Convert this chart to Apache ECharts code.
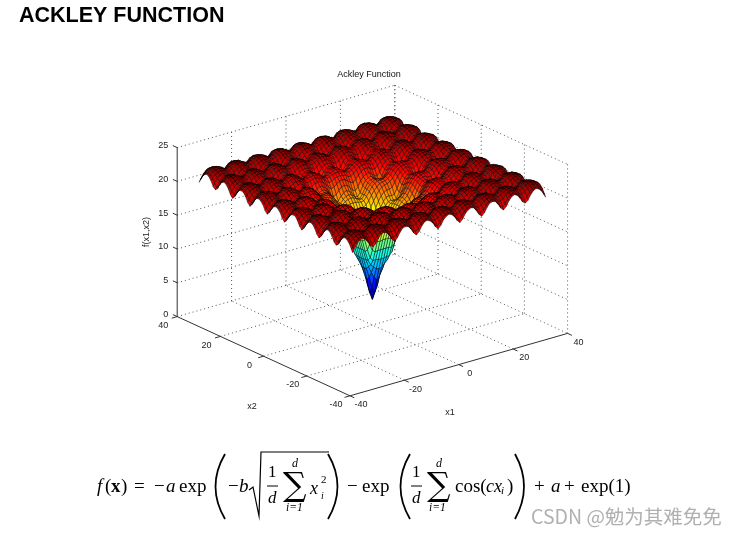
<!DOCTYPE html>
<html><head><meta charset="utf-8">
<style>html,body{margin:0;padding:0;background:#fff}#c{width:738px;height:537px}</style>
<script src="https://cdn.jsdelivr.net/npm/echarts@6/dist/echarts.min.js"></script>
</head><body><div id="c"></div>
<script>
const x1Ticks=[-40,-20,0,20,40];
const x2Ticks=[-40,-20,0,20,40];
const zTicks=[0,5,10,15,20,25];
const gridStops=[0,1,2,3,4,5,6,7,8,9,10,11,12,13,14,15,16,17,18,19,20,21,22,23,24,25,26,27,28,29,30,31,32,33,34,35,35.5];
// Surface heights for one octant of the symmetric surface: row k starts at column k.
const zOctant=[
[3.8,4.9,7.0,8.8,10.4,12.0,13.6,14.9,15.9,16.7,17.3,17.6,18.1,18.7,19.4,19.9,20.3,20.5,20.5,20.5,20.5,20.8,21.2,21.5,21.7,21.7,21.6,21.4,21.3,21.5,21.8,22.0,22.1,22.1,22.0,21.7,21.6],
[5.9,7.5,8.9,10.4,12.0,13.6,14.9,15.9,16.7,17.2,17.5,17.9,18.6,19.3,19.8,20.2,20.4,20.5,20.4,20.4,20.7,21.1,21.5,21.6,21.6,21.5,21.3,21.2,21.4,21.7,22.0,22.1,22.0,21.9,21.6,21.4],
[8.3,9.3,10.5,12.0,13.5,14.9,15.9,16.6,17.0,17.2,17.5,18.2,19.0,19.7,20.1,20.2,20.2,20.0,19.9,20.3,20.8,21.3,21.4,21.4,21.2,20.9,20.7,21.0,21.4,21.8,21.9,21.8,21.6,21.2,21.0],
[9.7,10.5,11.9,13.6,14.9,15.9,16.5,16.7,16.7,16.9,17.7,18.7,19.4,19.9,20.0,19.8,19.4,19.2,19.7,20.4,21.0,21.2,21.1,20.8,20.3,20.0,20.4,21.0,21.5,21.6,21.5,21.1,20.6,20.3],
[11.0,12.3,13.9,15.2,16.1,16.6,16.7,16.6,16.7,17.5,18.5,19.3,19.8,19.9,19.6,19.1,18.9,19.4,20.2,20.8,21.1,21.0,20.6,19.9,19.6,20.0,20.8,21.3,21.5,21.4,20.9,20.2,19.9],
[13.3,14.7,15.8,16.6,17.1,17.2,17.1,17.2,17.9,18.9,19.6,20.0,20.1,19.9,19.5,19.3,19.7,20.5,21.0,21.2,21.2,20.8,20.3,20.0,20.4,21.0,21.5,21.6,21.5,21.1,20.6,20.3],
[15.7,16.6,17.3,17.7,17.9,17.9,18.1,18.7,19.4,20.0,20.3,20.5,20.4,20.1,20.0,20.4,20.9,21.3,21.5,21.5,21.3,20.9,20.7,21.0,21.4,21.8,21.9,21.8,21.6,21.2,21.0],
[17.3,17.9,18.3,18.5,18.6,18.8,19.2,19.8,20.3,20.6,20.7,20.7,20.6,20.6,20.9,21.3,21.6,21.7,21.7,21.6,21.3,21.2,21.4,21.8,22.0,22.1,22.1,21.9,21.6,21.4],
[18.3,18.7,18.8,18.9,19.1,19.5,20.1,20.5,20.8,20.9,20.9,20.8,20.8,21.0,21.4,21.7,21.8,21.8,21.7,21.5,21.4,21.6,21.9,22.1,22.2,22.1,22.0,21.7,21.6],
[18.9,19.0,19.0,19.2,19.6,20.1,20.6,20.8,20.9,20.9,20.7,20.7,20.9,21.3,21.6,21.8,21.8,21.6,21.4,21.3,21.5,21.8,22.0,22.1,22.1,21.9,21.6,21.5],
[19.0,18.9,18.9,19.3,20.0,20.5,20.7,20.8,20.6,20.3,20.2,20.6,21.1,21.5,21.6,21.6,21.3,21.0,20.8,21.0,21.5,21.8,21.9,21.9,21.6,21.2,21.0],
[18.5,18.4,18.9,19.7,20.3,20.6,20.6,20.3,19.8,19.6,20.0,20.7,21.2,21.4,21.3,20.9,20.4,20.1,20.4,21.1,21.5,21.7,21.6,21.2,20.6,20.3],
[18.2,18.7,19.6,20.2,20.5,20.5,20.1,19.5,19.3,19.7,20.5,21.1,21.3,21.2,20.7,20.1,19.7,20.1,20.9,21.4,21.6,21.4,20.9,20.3,19.9],
[19.2,20.0,20.5,20.8,20.8,20.4,19.9,19.7,20.1,20.8,21.2,21.4,21.4,21.0,20.4,20.1,20.5,21.1,21.6,21.7,21.6,21.2,20.6,20.3],
[20.5,20.9,21.1,21.1,20.9,20.6,20.4,20.7,21.2,21.6,21.7,21.7,21.4,21.0,20.8,21.1,21.5,21.9,22.0,21.9,21.6,21.2,21.0],
[21.2,21.4,21.4,21.3,21.1,21.0,21.2,21.6,21.8,21.9,21.9,21.7,21.5,21.3,21.5,21.8,22.1,22.2,22.1,21.9,21.6,21.5],
[21.5,21.6,21.5,21.3,21.2,21.4,21.7,21.9,22.0,22.0,21.8,21.6,21.5,21.7,21.9,22.1,22.2,22.2,22.0,21.8,21.6],
[21.6,21.4,21.2,21.1,21.3,21.6,21.9,22.0,22.0,21.8,21.5,21.4,21.6,21.9,22.1,22.2,22.1,21.9,21.6,21.5],
[21.2,20.8,20.6,20.9,21.4,21.7,21.8,21.8,21.5,21.1,20.9,21.1,21.6,21.9,22.0,21.9,21.6,21.2,21.0],
[20.3,20.0,20.3,21.0,21.4,21.6,21.5,21.1,20.5,20.2,20.5,21.2,21.6,21.8,21.6,21.2,20.6,20.3],
[19.6,20.0,20.8,21.3,21.5,21.3,20.9,20.2,19.9,20.2,21.0,21.5,21.6,21.5,21.0,20.3,19.9],
[20.4,21.0,21.5,21.6,21.5,21.1,20.5,20.2,20.6,21.2,21.6,21.8,21.6,21.2,20.6,20.3],
[21.5,21.8,21.9,21.8,21.6,21.2,20.9,21.2,21.6,21.9,22.0,21.9,21.7,21.2,21.0],
[22.0,22.1,22.1,21.9,21.6,21.4,21.6,21.9,22.1,22.2,22.2,22.0,21.7,21.5],
[22.2,22.1,22.0,21.7,21.6,21.8,22.0,22.2,22.3,22.2,22.1,21.8,21.7],
[22.1,21.9,21.6,21.5,21.6,21.9,22.2,22.2,22.2,22.0,21.7,21.5],
[21.6,21.2,21.0,21.2,21.6,22.0,22.1,22.0,21.7,21.3,21.0],
[20.6,20.3,20.6,21.2,21.7,21.8,21.7,21.3,20.7,20.3],
[19.9,20.3,21.0,21.5,21.7,21.5,21.0,20.3,20.0],
[20.6,21.3,21.7,21.8,21.7,21.3,20.7,20.3],
[21.7,22.0,22.1,22.0,21.7,21.3,21.0],
[22.2,22.3,22.2,22.0,21.7,21.5],
[22.3,22.3,22.1,21.8,21.7],
[22.2,22.0,21.7,21.5],
[21.7,21.3,21.1],
[20.7,20.4],
[20.0]
];

const n=gridStops.length;
const coordAt=k=>k<n?-gridStops[n-1-k]:gridStops[k-n+1];
const zAt=(a,b)=>{
  const p=Math.abs(a-n+1),q=Math.abs(b-n+1);
  const lo=Math.min(p,q),hi=Math.max(p,q);
  return zOctant[lo][hi-lo];
};
const size=2*n-1;
const zMin=3.8,zMax=22.35;
function jet(v){
  const t=Math.max(0,Math.min(1,(v-zMin)/(zMax-zMin)));
  const c=f=>Math.round(255*Math.max(0,Math.min(1,f)));
  return 'rgb('+c(Math.min(4*t-1.5,-4*t+4.5))+','+c(Math.min(4*t-.5,-4*t+3.5))+','+c(Math.min(4*t+.5,-4*t+2.5))+')';
}
// Orthographic view of the plot box, in page units of the hidden viewport axes.
const proj=(x1,x2,z)=>[372.4+2.72*x1-2.16*x2, 325-0.78*x1-0.99*x2-6.76*z];

const quads=[];
for(let a=size-2;a>=0;a--)for(let b=size-2;b>=0;b--)quads.push([a,b]);

const dotted={stroke:'#555',lineWidth:1,lineDash:[1,3]};
const solid={stroke:'#333',lineWidth:1};
const lines3d=[];
const add=(p,q,s)=>lines3d.push([p,q,s]);
for(const t of x1Ticks){
  if(t>-40&&t<40) add([t,-40,0],[t,40,0],'d');
  if(t>-40) add([t,40,0],[t,40,25],'d');
  add([t,-40,0],[t,-42,0],'s');
}
for(const t of x2Ticks){
  if(t>-40&&t<40) add([-40,t,0],[40,t,0],'d');
  add([40,t,0],[40,t,25],'d');
  add([-40,t,0],[-42,t,0],'s');
}
for(const t of zTicks){
  add([-40,40,t],[40,40,t],'d');
  add([40,40,t],[40,-40,t],'d');
  add([-40,40,t],[-40,42,t],'s');
}
add([-40,40,0],[-40,40,25],'s');
add([-40,40,0],[-40,-40,0],'s');
add([-40,-40,0],[40,-40,0],'s');

const labels=[];
x2Ticks.forEach(t=>labels.push({p:[-40,t,0],dx:-14,dy:9,t:String(t),a:'center'}));
x1Ticks.forEach(t=>labels.push({p:[t,-40,0],dx:11,dy:9,t:String(t),a:'center'}));
zTicks.forEach(t=>labels.push({p:[-40,40,t],dx:-9,dy:-2,t:String(t),a:'right'}));

const F='"Liberation Sans",Arial,sans-serif', S='"Liberation Serif",serif';
const tx=(x,y,text,size,o)=>Object.assign({type:'text',x,y,silent:true,style:Object.assign({text,fill:'#000',font:size+'px '+S,textVerticalAlign:'middle',textAlign:'left'},o||{})});
const it=(x,y,text,size)=>tx(x,y,text,size,{font:'italic '+size+'px '+S});
const paren=(x0,xm,y0,y1)=>({type:'bezierCurve',silent:true,shape:{x1:x0,y1:y0,x2:x0,y2:y1,cpx1:xm,cpy1:(y0+y1)/2},style:{stroke:'#000',lineWidth:1.8,fill:null}});
const ln=(a,b,c,d,w)=>({type:'line',silent:true,shape:{x1:a,y1:b,x2:c,y2:d},style:{stroke:'#000',lineWidth:w||1}});
const graphic=[
 {type:'text',x:19,y:16,style:{text:'ACKLEY FUNCTION',font:'bold 21.5px '+F,fill:'#000',textVerticalAlign:'middle'}},
 {type:'text',x:369,y:75,style:{text:'Ackley Function',font:'9px '+F,fill:'#111',textAlign:'center',textVerticalAlign:'middle'}},
 {type:'text',x:252,y:407,style:{text:'x2',font:'9px '+F,fill:'#222',textAlign:'center',textVerticalAlign:'middle'}},
 {type:'text',x:450,y:413,style:{text:'x1',font:'9px '+F,fill:'#222',textAlign:'center',textVerticalAlign:'middle'}},
 {type:'text',x:147,y:232,rotation:Math.PI/2,style:{text:'f(x1,x2)',font:'9px '+F,fill:'#222',textAlign:'center',textVerticalAlign:'middle'}},
 it(97,487,'f',19),tx(105,487,'(',19),tx(111,487,'x',19,{font:'bold 19px '+S}),tx(121,487,')',19),
 tx(134,487,'=',19),tx(154,487,'−',19),it(166,487,'a',19),tx(179,487,'exp',19),
 paren(225,206,454,519),
 tx(228,487,'−',19),it(239,487,'b',19),
 {type:'polyline',silent:true,shape:{points:[[249,490],[253,487],[259,516],[261,452],[329,452]]},style:{stroke:'#000',lineWidth:1.2,fill:null}},
 tx(268,473,'1',17),ln(267,486,278,486),it(268,499,'d',17),
 tx(283,487,'∑',33,{font:'33px "DejaVu Serif"'}),it(292,464,'d',12),it(286,508,'i=1',11.5),
 it(310,489,'x',18),tx(321,480,'2',11),it(321,496,'i',10),
 paren(328,347,454,519),
 tx(347,487,'−',19),tx(362,487,'exp',19),
 paren(410,391,454,519),
 tx(412,473,'1',17),ln(411,486,422,486),it(412,499,'d',17),
 tx(427,487,'∑',33,{font:'33px "DejaVu Serif"'}),it(436,464,'d',12),it(429,508,'i=1',11.5),
 tx(455,487,'cos(',19),it(486,487,'cx',18),it(501,491,'i',11),tx(507,487,')',19),
 paren(515,533,454,519),
 tx(534,487,'+',19),it(551,487,'a',19),tx(564,487,'+',19),tx(581,487,'exp(1)',19),
 {type:'text',x:531,y:517,style:{text:'CSDN @勉为其难免免',font:'19.5px "Noto Sans CJK SC","Liberation Sans",sans-serif',fill:'#b0b0b0',textVerticalAlign:'middle'}}
];

const chart=echarts.init(document.getElementById('c'),null,{renderer:'canvas'});
chart.setOption({
 animation:false,
 backgroundColor:'#fff',
 grid:{left:0,top:0,right:0,bottom:0},
 xAxis:{type:'value',min:0,max:738,show:false},
 yAxis:{type:'value',min:0,max:537,inverse:true,show:false},
 graphic:{elements:graphic},
 series:[
 {type:'custom',name:'box',coordinateSystem:'cartesian2d',silent:true,clip:false,z:1,
  data:lines3d.map((l,i)=>[i]),
  renderItem(p,api){
    const l=lines3d[api.value(0)];
    const a=api.coord(proj(...l[0])),b=api.coord(proj(...l[1]));
    return {type:'line',shape:{x1:a[0],y1:a[1],x2:b[0],y2:b[1]},style:l[2]==='d'?dotted:solid};
  }},
 {type:'custom',name:'ticklabels',coordinateSystem:'cartesian2d',silent:true,clip:false,z:1,
  data:labels.map((l,i)=>[i]),
  renderItem(p,api){
    const l=labels[api.value(0)];
    const a=api.coord(proj(...l.p));
    return {type:'text',x:a[0]+l.dx,y:a[1]+l.dy,style:{text:l.t,font:'9px '+F,fill:'#222',textAlign:l.a,textVerticalAlign:'middle'}};
  }},
 {type:'custom',name:'surface',coordinateSystem:'cartesian2d',silent:true,clip:false,z:2,progressive:0,
  data:quads,
  renderItem(p,api){
    const a=api.value(0),b=api.value(1);
    const c=[[a,b],[a+1,b],[a+1,b+1],[a,b+1]];
    const zs=c.map(q=>zAt(q[0],q[1]));
    const pts=c.map((q,k)=>api.coord(proj(coordAt(q[0]),coordAt(q[1]),zs[k])));
    return {type:'polygon',shape:{points:pts},style:{fill:jet((zs[0]+zs[1]+zs[2]+zs[3])/4),stroke:'#000',lineWidth:.45}};
  }}
 ]
});
</script></body></html>
